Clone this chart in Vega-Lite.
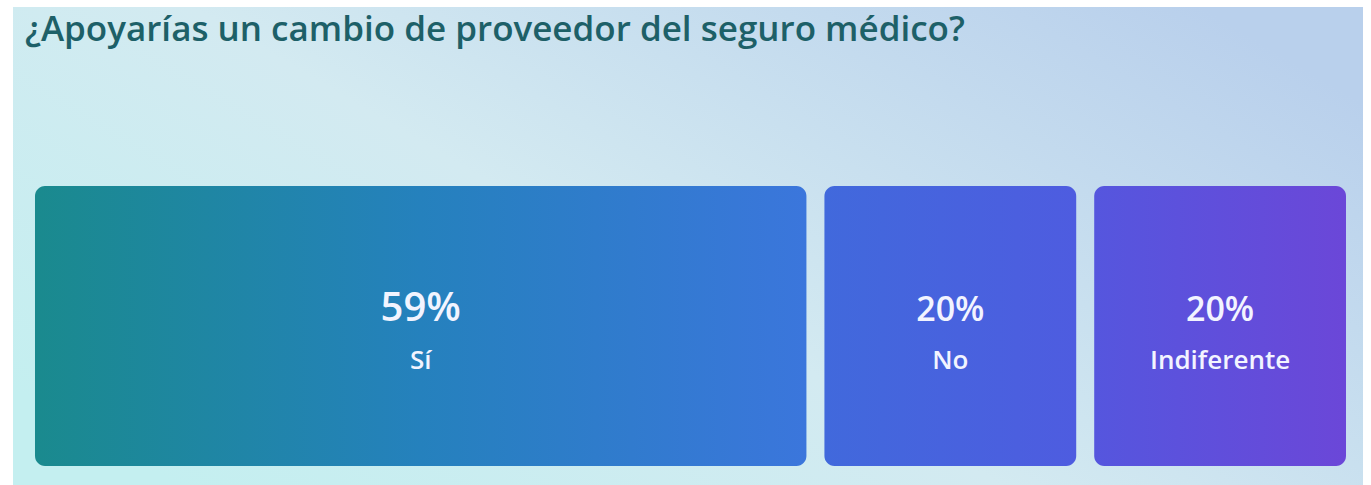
{
  "$schema": "https://vega.github.io/schema/vega-lite/v6.json",
  "autosize": "none",
  "padding": {"left": 13, "top": 7, "right": 8, "bottom": 0},
  "width": 1350,
  "height": 478,
  "background": "#ffffff",
  "config": {
    "view": {
      "stroke": null,
      "fill": {
        "gradient": "linear",
        "x1": 0, "y1": 0.8, "x2": 1, "y2": 0.2,
        "stops": [
          {"offset": 0, "color": "#c4eff0"},
          {"offset": 0.45, "color": "#d3eaf1"},
          {"offset": 1, "color": "#b9d0ec"}
        ]
      }
    }
  },
  "data": {
    "values": [
      {"opcion": "Sí", "valor": 0.594, "orden": 1},
      {"opcion": "No", "valor": 0.203, "orden": 2},
      {"opcion": "Indiferente", "valor": 0.203, "orden": 3}
    ]
  },
  "transform": [
    {"stack": "valor", "groupby": [], "sort": [{"field": "orden", "order": "ascending"}], "as": ["x0", "x1"]},
    {"calculate": "(datum.x0 + datum.x1) / 2", "as": "xc"}
  ],
  "layer": [
    {
      "transform": [{"filter": "datum.opcion === 'Sí'"}],
      "mark": {
        "type": "bar", "cornerRadius": 10, "x2Offset": -18,
        "fill": {"gradient": "linear", "x1": 0, "y1": 0, "x2": 1, "y2": 0,
          "stops": [{"offset": 0, "color": "#1a8a8e"}, {"offset": 0.5, "color": "#2581bd"}, {"offset": 1, "color": "#3b76dc"}]}
      },
      "encoding": {
        "x": {"field": "x0", "type": "quantitative", "axis": null, "scale": {"domain": [-0.01655, 0.99925], "nice": false, "zero": false}},
        "x2": {"field": "x1"},
        "y": {"datum": 0, "type": "quantitative", "axis": null, "scale": {"domain": [-0.06786, 1.6393], "nice": false, "zero": false}},
        "y2": {"datum": 1}
      }
    },
    {
      "transform": [{"filter": "datum.opcion === 'No'"}],
      "mark": {
        "type": "bar", "cornerRadius": 10, "x2Offset": -18,
        "fill": {"gradient": "linear", "x1": 0, "y1": 0, "x2": 1, "y2": 0,
          "stops": [{"offset": 0, "color": "#4169dc"}, {"offset": 1, "color": "#4e5ce0"}]}
      },
      "encoding": {
        "x": {"field": "x0", "type": "quantitative", "axis": null, "scale": {"domain": [-0.01655, 0.99925], "nice": false, "zero": false}},
        "x2": {"field": "x1"},
        "y": {"datum": 0, "type": "quantitative", "axis": null, "scale": {"domain": [-0.06786, 1.6393], "nice": false, "zero": false}},
        "y2": {"datum": 1}
      }
    },
    {
      "transform": [{"filter": "datum.opcion === 'Indiferente'"}],
      "mark": {
        "type": "bar", "cornerRadius": 10, "x2Offset": -18,
        "fill": {"gradient": "linear", "x1": 0, "y1": 0, "x2": 1, "y2": 0,
          "stops": [{"offset": 0, "color": "#5556de"}, {"offset": 1, "color": "#6b47d8"}]}
      },
      "encoding": {
        "x": {"field": "x0", "type": "quantitative", "axis": null, "scale": {"domain": [-0.01655, 0.99925], "nice": false, "zero": false}},
        "x2": {"field": "x1"},
        "y": {"datum": 0, "type": "quantitative", "axis": null, "scale": {"domain": [-0.06786, 1.6393], "nice": false, "zero": false}},
        "y2": {"datum": 1}
      }
    },
    {
      "mark": {"type": "text", "font": "Open Sans", "fontWeight": 600, "color": "#f2f4ff", "baseline": "alphabetic", "align": "center", "dx": -9, "dy": 75},
      "encoding": {
        "x": {"field": "xc", "type": "quantitative", "axis": null, "scale": {"domain": [-0.01655, 0.99925], "nice": false, "zero": false}},
        "text": {"field": "valor", "type": "quantitative", "format": ".0%"},
        "size": {"condition": {"test": "datum.orden === 1", "value": 40}, "value": 34}
      }
    },
    {
      "mark": {"type": "text", "font": "Open Sans", "fontWeight": 600, "fontSize": 26, "color": "#f2f4ff", "baseline": "alphabetic", "align": "center", "dx": -9, "dy": 123},
      "encoding": {
        "x": {"field": "xc", "type": "quantitative", "axis": null, "scale": {"domain": [-0.01655, 0.99925], "nice": false, "zero": false}},
        "text": {"field": "opcion", "type": "nominal"}
      }
    },
    {
      "data": {"values": [{"titulo": "¿Apoyarías un cambio de proveedor del seguro médico?", "xpos": -0.0075, "ypos": 1.518}]},
      "mark": {"type": "text", "font": "Open Sans", "fontWeight": 600, "fontSize": 35, "color": "#1d6068", "baseline": "alphabetic", "align": "left"},
      "encoding": {
        "x": {"field": "xpos", "type": "quantitative", "axis": null, "scale": {"domain": [-0.01655, 0.99925], "nice": false, "zero": false}},
        "y": {"field": "ypos", "type": "quantitative", "axis": null, "scale": {"domain": [-0.06786, 1.6393], "nice": false, "zero": false}},
        "text": {"field": "titulo", "type": "nominal"}
      }
    }
  ]
}
